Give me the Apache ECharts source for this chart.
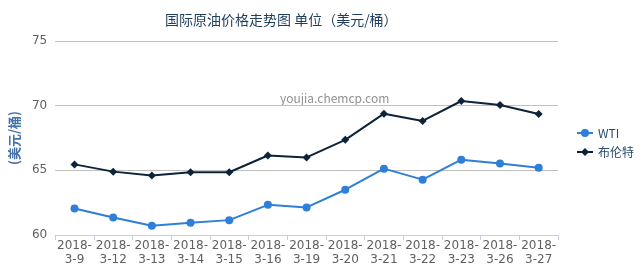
<!DOCTYPE html>
<html><head><meta charset="utf-8">
<script src="https://cdn.jsdelivr.net/npm/echarts@6/dist/echarts.min.js"></script>
<style>html,body{margin:0;padding:0;background:#fff}#c{width:640px;height:274px}</style>
</head><body><div id="c"></div>
<script>
const categories = ['2018-\n3-9','2018-\n3-12','2018-\n3-13','2018-\n3-14','2018-\n3-15','2018-\n3-16','2018-\n3-19','2018-\n3-20','2018-\n3-21','2018-\n3-22','2018-\n3-23','2018-\n3-26','2018-\n3-27'];
const wti = [62.05, 61.36, 60.72, 60.95, 61.15, 62.33, 62.13, 63.5, 65.13, 64.28, 65.82, 65.52, 65.2];
const brent = [65.46, 64.9, 64.6, 64.85, 64.85, 66.15, 66.0, 67.36, 69.38, 68.82, 70.36, 70.05, 69.36];
const seriesNames = ['WTI', '布伦特'];
const titleText = '国际原油价格走势图 单位（美元/桶）';
const yName = '(美元/桶)';
const watermark = 'youjia.chemcp.com';

const chart = echarts.init(document.getElementById('c'), null, {renderer: 'canvas'});
const font = '"Noto Sans CJK SC",sans-serif';
const numFont = '"DejaVu Sans",sans-serif';
chart.setOption({
  animation: false,
  title: {
    text: titleText, left: 160, top: 8,
    textStyle: {color: '#1f3d5c', fontSize: 14, fontWeight: 'normal', fontFamily: font}
  },
  legend: {
    orient: 'vertical', left: 571, top: 122, itemGap: 7, itemWidth: 16, itemHeight: 10,
    data: seriesNames,
    textStyle: {color: '#274b6d', fontSize: 12, fontFamily: font}
  },
  grid: {left: 54, right: 82, top: 41, bottom: 39},
  graphic: [{
    type: 'text', left: 280, top: 92,
    style: {text: watermark, fill: '#909090', fontSize: 12, fontFamily: font}
  }],
  xAxis: {
    type: 'category', data: categories, boundaryGap: true,
    axisLine: {lineStyle: {color: '#c0d0e0'}},
    axisTick: {show: true, length: 5, lineStyle: {color: '#c0d0e0'}},
    axisLabel: {color: '#606060', fontSize: 12, lineHeight: 14, margin: 4, interval: 0, fontFamily: numFont}
  },
  yAxis: {
    type: 'value', min: 60, max: 75, interval: 5,
    name: yName, nameLocation: 'middle', nameGap: 31, nameRotate: 90,
    nameTextStyle: {color: '#4572a7', fontSize: 13, fontWeight: 'bold', fontFamily: font},
    axisLine: {show: false}, axisTick: {show: false},
    axisLabel: {color: '#606060', fontSize: 12, margin: 8, fontFamily: numFont},
    splitLine: {lineStyle: {color: '#c0c0c0'}}
  },
  series: [
    {name: seriesNames[0], type: 'line', data: wti, symbol: 'circle', symbolSize: 8,
     itemStyle: {color: '#2f7ed8'}, lineStyle: {width: 2, color: '#2f7ed8'}},
    {name: seriesNames[1], type: 'line', data: brent, symbol: 'diamond', symbolSize: 8,
     itemStyle: {color: '#0d233a'}, lineStyle: {width: 2, color: '#0d233a'}}
  ]
});
</script></body></html>
